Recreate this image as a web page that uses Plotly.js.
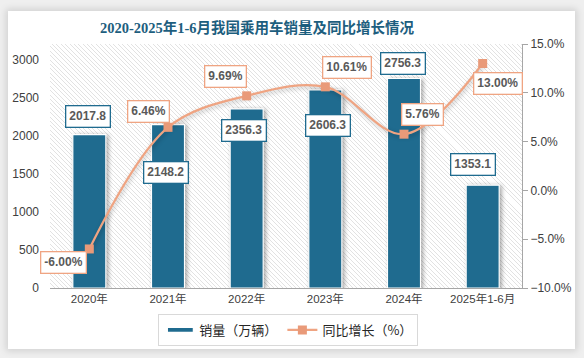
<!DOCTYPE html>
<html>
<head>
<meta charset="utf-8">
<script src="https://cdn.plot.ly/plotly-3.0.1.min.js"></script>
<style>
  html, body { margin: 0; padding: 0; width: 584px; height: 358px; overflow: hidden; background: #efefef; }
  #card { position: absolute; left: 8px; top: 11px; width: 567px; height: 338px; background: #ffffff;
          box-shadow: 0 0 7px 2px rgba(0,0,0,0.13); }
  #hatch { position: absolute; left: 50px; top: 44px; width: 472px; height: 244px;
           background: repeating-linear-gradient(45deg, #e2e2e2 0px, #e2e2e2 0.7px, #ffffff 0.7px, #ffffff 3.1px); }
  #chart { position: absolute; left: 0; top: 0; width: 584px; height: 358px; }
  .trace.bars path { filter: drop-shadow(2px 1px 2px rgba(0,0,0,0.35)); }
  .scatterlayer .trace .js-line { filter: drop-shadow(1px 2px 2px rgba(0,0,0,0.25)); }
</style>
</head>
<body>
<div id="card"></div>
<div id="hatch"></div>
<div id="chart"></div>
<script>
const categories = ['2020年', '2021年', '2022年', '2023年', '2024年', '2025年1-6月'];
const sales = [2017.8, 2148.2, 2356.3, 2606.3, 2756.3, 1353.1];
const growth = [-6.00, 6.46, 9.69, 10.61, 5.76, 13.00];

const barColor = '#1f6b8f';
const lineColor = '#efa482';
const markerColor = '#e99a79';
const labelFont = { family: 'Liberation Sans, Arial, sans-serif', size: 12, color: '#595959', weight: 'bold' };
const tickFont = { family: 'Liberation Sans, Noto Sans CJK SC, sans-serif', size: 12, color: '#404040' };

// label pixel offsets relative to the bar top / line point
const barLabelShift = [[-1, 18], [-2, -48], [-3, -22], [3, -36], [-1, 15], [-10, 21]];
const lineLabelShift = [[-26, -14], [-20, 16], [-21, 19], [22, 19], [18, 20], [15, -20]];

const traces = [
  {
    type: 'bar', name: '销量（万辆）', x: categories, y: sales, yaxis: 'y',
    width: 0.42,
    marker: { color: barColor, line: { color: '#ffffff', width: 1.2 } },
    hoverinfo: 'skip'
  },
  {
    type: 'scatter', mode: 'lines+markers', name: '同比增长（%）', x: categories, y: growth, yaxis: 'y2',
    line: { color: lineColor, width: 2.2, shape: 'spline', smoothing: 1 },
    marker: { symbol: 'square', size: 9, color: markerColor },
    hoverinfo: 'skip'
  }
];

const annotations = [];
categories.forEach((c, i) => {
  annotations.push({
    x: c, y: sales[i], xref: 'x', yref: 'y', text: sales[i].toFixed(1),
    showarrow: false, xanchor: 'center', yanchor: 'middle',
    xshift: barLabelShift[i][0], yshift: barLabelShift[i][1],
    font: labelFont, bgcolor: '#ffffff', bordercolor: barColor, borderwidth: 1.3, borderpad: 3
  });
  annotations.push({
    x: c, y: growth[i], xref: 'x', yref: 'y2', text: growth[i].toFixed(2) + '%',
    showarrow: false, xanchor: 'center', yanchor: 'middle',
    xshift: lineLabelShift[i][0], yshift: lineLabelShift[i][1],
    font: labelFont, bgcolor: '#ffffff', bordercolor: lineColor, borderwidth: 1.3, borderpad: 3
  });
});

const layout = {
  width: 584, height: 358,
  margin: { l: 50, r: 62, t: 44, b: 70, autoexpand: false },
  paper_bgcolor: 'rgba(0,0,0,0)',
  plot_bgcolor: 'rgba(0,0,0,0)',
  title: {
    text: '<b>2020-2025年1-6月我国乘用车销量及同比增长情况</b>',
    font: { family: 'Liberation Serif, Noto Sans CJK SC, serif', size: 14.5, color: '#1d5e7e' },
    x: 0.44, xref: 'container', xanchor: 'center',
    y: 1 - 28 / 358, yref: 'container', yanchor: 'middle'
  },
  showlegend: true,
  legend: {
    orientation: 'h', x: 0.505, xanchor: 'center', y: -0.172, yanchor: 'middle',
    bordercolor: '#d9d9d9', borderwidth: 1, bgcolor: '#ffffff',
    font: { family: 'Noto Sans CJK SC, sans-serif', size: 13, color: '#262626' },
    itemwidth: 30
  },
  xaxis: {
    type: 'category', range: [-0.5, categories.length - 0.5], showgrid: false, zeroline: false, automargin: false,
    showline: true, linecolor: '#a6a6a6', linewidth: 1.2,
    ticks: '', tickfont: { family: 'Liberation Sans, Noto Sans CJK SC, sans-serif', size: 11.5, color: '#404040' },
    fixedrange: true
  },
  yaxis: {
    range: [0, 3210], dtick: 500, tick0: 0, showgrid: false, zeroline: false, automargin: false,
    showline: false, ticks: '', tickfont: tickFont, ticklabelstandoff: 10,
    fixedrange: true
  },
  yaxis2: {
    overlaying: 'y', side: 'right', range: [-10, 15], dtick: 5, tick0: -10, automargin: false,
    tickformat: '.1f', ticksuffix: '%', showgrid: false, zeroline: false,
    showline: true, linecolor: '#a6a6a6', linewidth: 1,
    ticks: 'outside', ticklen: 5, tickcolor: '#a6a6a6', tickfont: tickFont,
    fixedrange: true
  },
  bargap: 0.58,
  annotations: annotations
};

Plotly.newPlot('chart', traces, layout, { displayModeBar: false, staticPlot: true }).then(() => {
  const first = document.querySelector('.legend .traces');
  if (first) {
    const p = first.querySelector('.legendpoints path');
    if (p) p.setAttribute('d', 'M-12,-2.5H14V2.5H-12Z');
  }
});
</script>
</body>
</html>
